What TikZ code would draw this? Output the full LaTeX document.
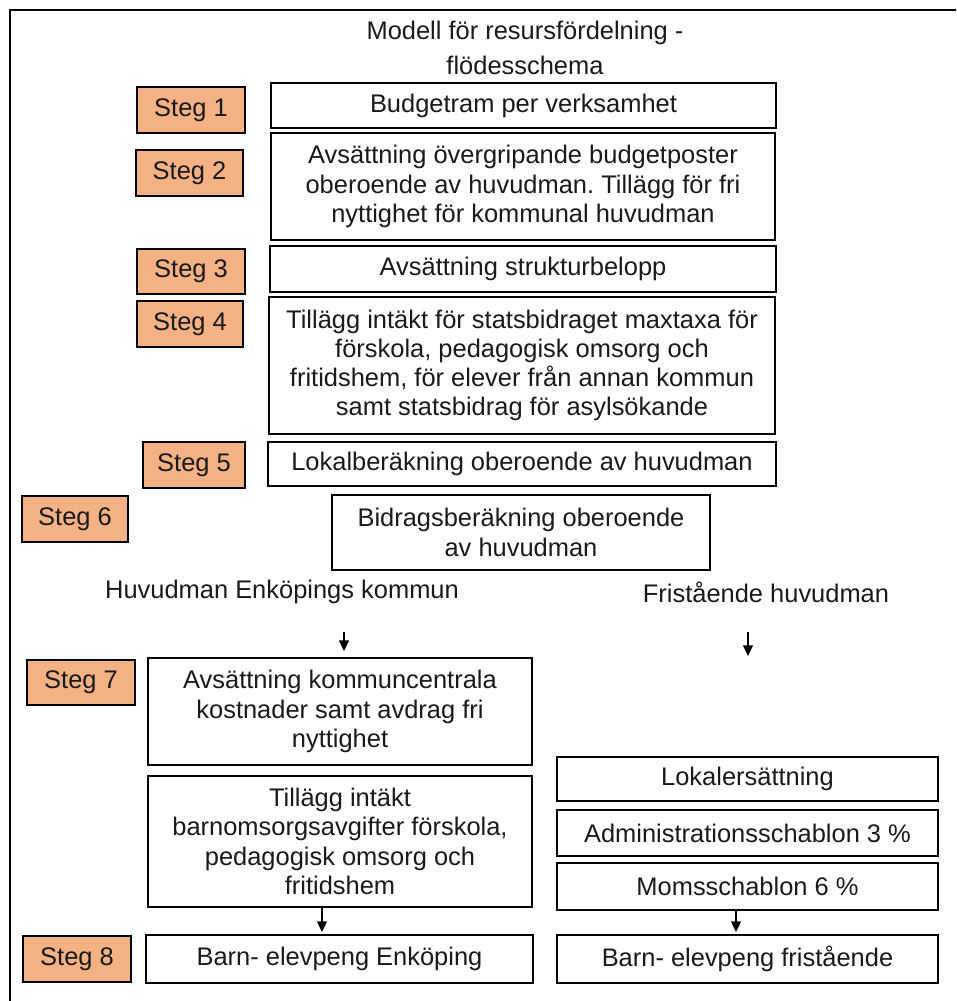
\documentclass[tikz,border=0pt]{standalone}
\usepackage{fontspec}
\setmainfont{Liberation Sans}
\frenchspacing
\usetikzlibrary{arrows.meta}
\definecolor{stegfill}{HTML}{F4B183}
\definecolor{txt}{HTML}{1A1A1A}
\tikzset{
  basefont/.style={font=\fontsize{18.1}{20.8}\selectfont, text=txt},
  box/.style={draw=black, line width=1.4pt, fill=white, align=center, basefont, inner sep=2pt},
  stegbox/.style={draw=black, line width=1.4pt, fill=stegfill, align=center, basefont, inner sep=2pt},
  lbl/.style={basefont, align=center},
  arr/.style={line width=0.8pt, -{Triangle[length=7.5pt,width=7pt]}},
  frame/.style={line width=2pt}
}
\begin{document}
\begin{tikzpicture}[x=0.025cm,y=-0.025cm]
\useasboundingbox (0,0) rectangle (956,1001);
\draw[frame] (956,10) -- (10,10) -- (10,1001);
% title
\node[lbl, font=\fontsize{18.1}{24.9}\selectfont] (title) at (525,48) {Modell för resursfördelning -\\flödesschema};
% step boxes
\node[stegbox, minimum width=2.70cm, minimum height=1.15cm] (s1) at (191,110) {Steg 1};
\node[stegbox, minimum width=2.675cm, minimum height=1.15cm] (s2) at (189.5,173) {Steg 2};
\node[stegbox, minimum width=2.70cm, minimum height=1.125cm] (s3) at (191,271.5) {Steg 3};
\node[stegbox, minimum width=2.65cm, minimum height=1.15cm] (s4) at (190,324) {Steg 4};
\node[stegbox, minimum width=2.55cm, minimum height=1.15cm] (s5) at (194,465) {Steg 5};
\node[stegbox, minimum width=2.65cm, minimum height=1.15cm] (s6) at (75,519) {Steg 6};
\node[stegbox, minimum width=2.70cm, minimum height=1.125cm] (s7) at (81,682.5) {Steg 7};
\node[stegbox, minimum width=2.70cm, minimum height=1.15cm] (s8) at (77,959) {Steg 8};
% main boxes
\node[box, minimum width=12.625cm, minimum height=1.125cm] (b1) at (523.5,105.5) {Budgetram per verksamhet};
\node[box, minimum width=12.6cm, minimum height=2.675cm] (b2) at (523,186.5) {Avsättning övergripande budgetposter\\oberoende av huvudman. Tillägg för fri\\nyttighet för kommunal huvudman};
\node[box, minimum width=12.65cm, minimum height=1.15cm] (b3) at (523,269) {Avsättning strukturbelopp};
\node[box, minimum width=12.65cm, minimum height=3.425cm] (b4) at (522,365.5) {Tillägg intäkt för statsbidraget maxtaxa för\\förskola, pedagogisk omsorg och\\fritidshem, för elever från annan kommun\\samt statsbidrag för asylsökande};
\node[box, minimum width=12.7cm, minimum height=1.1cm] (b5) at (522,464) {Lokalberäkning oberoende av huvudman};
\node[box, minimum width=9.45cm, minimum height=1.875cm] (b6) at (521,532.5) {Bidragsberäkning oberoende\\av huvudman};
% branch labels
\node[lbl] (hk) at (282,592) {Huvudman Enköpings kommun};
\node[lbl] (fh) at (766,592) {Fristående huvudman};
% left branch
\node[box, minimum width=9.6cm, minimum height=2.675cm] (b7) at (340,711.5) {Avsättning kommuncentrala\\kostnader samt avdrag fri\\nyttighet};
\node[box, minimum width=9.6cm, minimum height=3.275cm] (b8) at (340,841.5) {Tillägg intäkt\\barnomsorgsavgifter förskola,\\pedagogisk omsorg och\\fritidshem};
\node[box, minimum width=9.675cm, minimum height=1.2cm] (b9) at (339.5,959) {Barn- elevpeng Enköping};
% right branch
\node[box, minimum width=9.525cm, minimum height=1.1cm] (r1) at (747.5,779) {Lokalersättning};
\node[box, minimum width=9.525cm, minimum height=1.15cm] (r2) at (747.5,833) {Administrationsschablon 3 \%};
\node[box, minimum width=9.525cm, minimum height=1.175cm] (r3) at (747.5,886.5) {Momsschablon 6 \%};
\node[box, minimum width=9.525cm, minimum height=1.2cm] (r4) at (747.5,959) {Barn- elevpeng fristående};
% arrows
\coordinate (a1s) at (344,632);
\coordinate (a1e) at (344,651);
\coordinate (a2s) at (748,632);
\coordinate (a2e) at (748,656);
\coordinate (a3e) at (322,932);
\coordinate (a4e) at (736,932);
\draw[arr] (a1s) -- (a1e);
\draw[arr] (a2s) -- (a2e);
\draw[arr] (b8.south -| a3e) -- (a3e);
\draw[arr] (r3.south -| a4e) -- (a4e);
\end{tikzpicture}
\end{document}
